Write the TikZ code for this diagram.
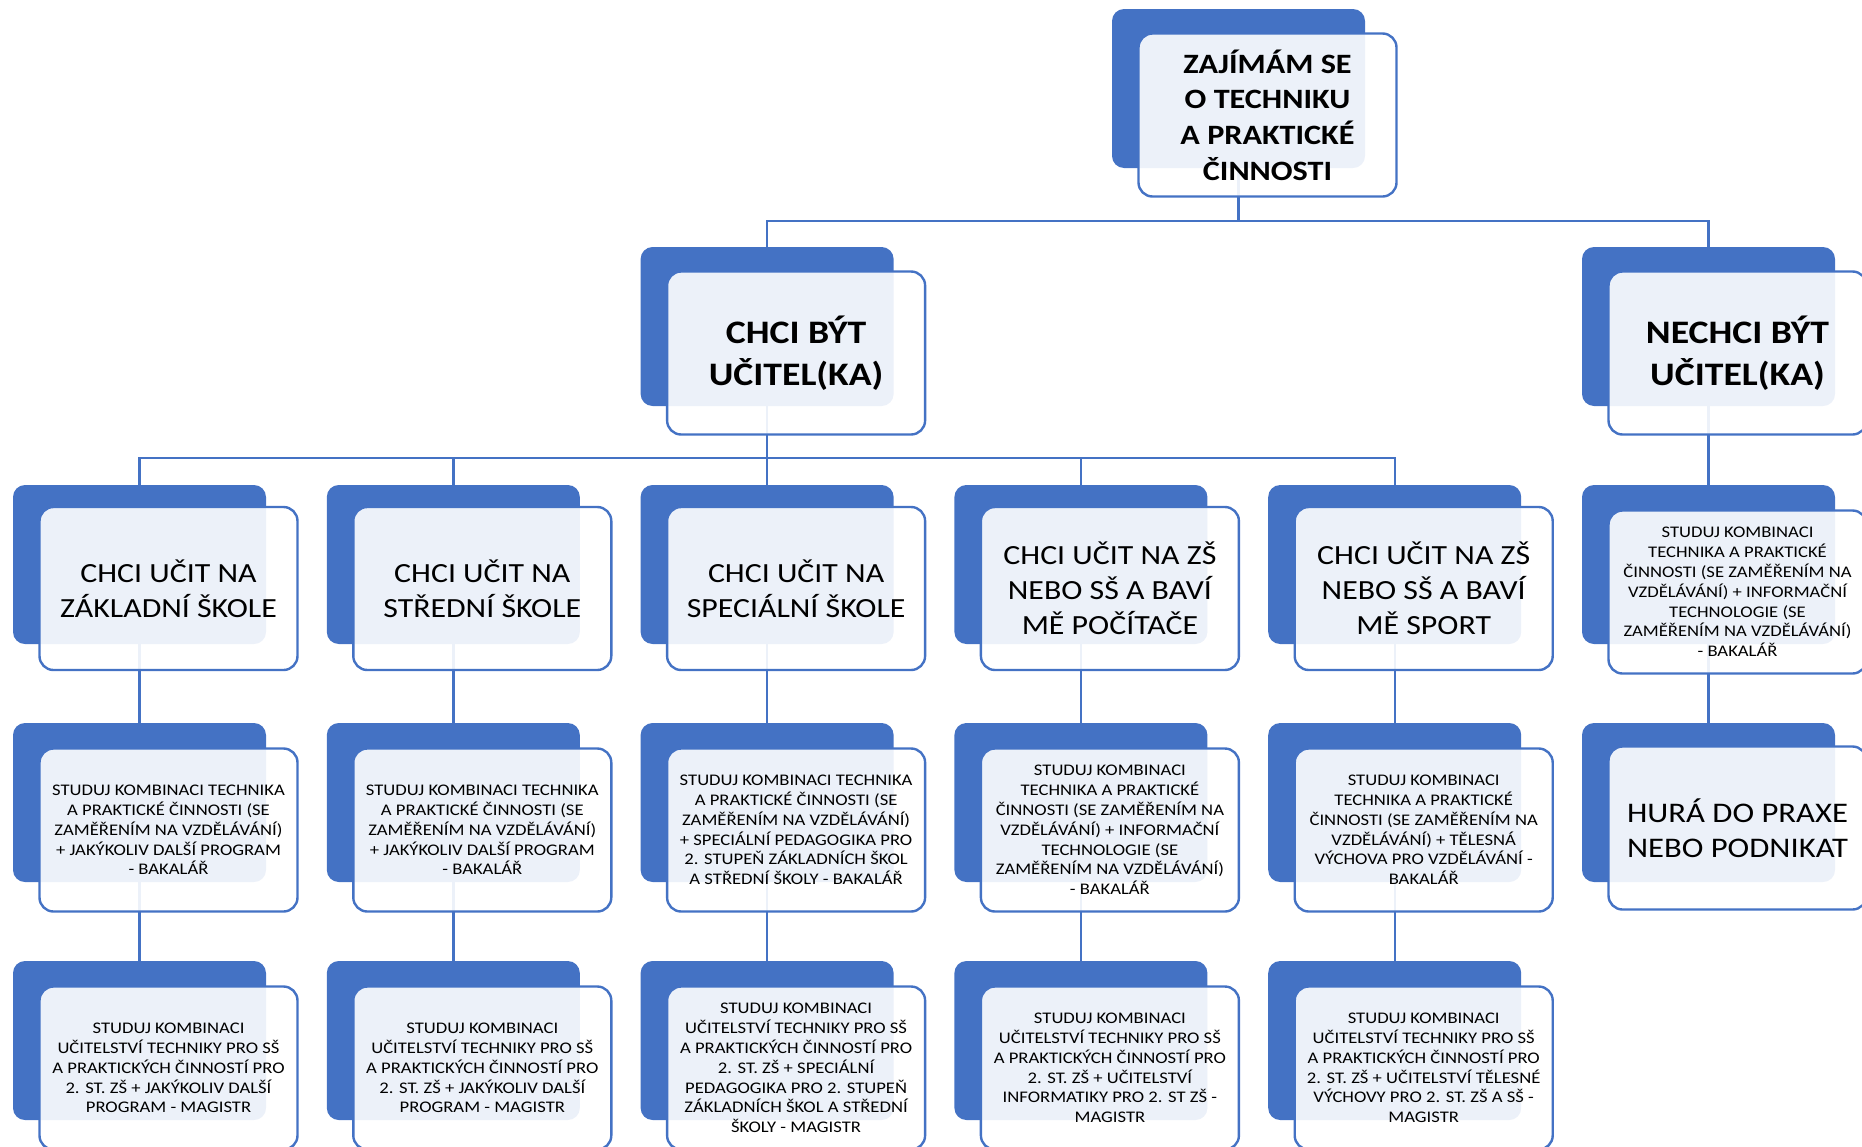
\documentclass[tikz,border=0pt]{standalone}
\usepackage{fontspec}
\setmainfont{Carlito}[FakeStretch=1.15]
\usepackage{tikz}
\usetikzlibrary{backgrounds}
\definecolor{smartblue}{HTML}{4472C4}

\begin{document}
\begin{tikzpicture}[x=0.5pt,y=-0.5pt,
  back/.style={fill=smartblue,rounded corners=6pt,minimum width=126.5pt,minimum height=79.5pt,inner sep=0pt},
  front/.style={draw=smartblue,line width=1.2pt,fill=white,fill opacity=0.9,text opacity=1,rounded corners=7pt,minimum width=129pt,minimum height=81.5pt,inner sep=2pt,align=center},
  huge/.style={front,font=\bfseries\fontsize{16.4}{20.8}\selectfont},
  head/.style={front,font=\bfseries\fontsize{14}{17.8}\selectfont},
  mid/.style={front,font=\fontsize{13.85}{17.6}\selectfont},
  small/.style={front,font=\fontsize{8.1}{9.9}\selectfont},
  link/.style={draw=smartblue,line width=1.2pt}]

\clip (0,0) rectangle (1862,1146);

% top
\node[back] (zajem) at (1238.5,88.5) {};
\node[head] (zajemt) at (1267.5,115) {ZAJÍMÁM SE\\O TECHNIKU\\A PRAKTICKÉ\\ČINNOSTI};

% second row
\node[back] (ucitel) at (767.1,326.5) {};
\node[huge] (ucitelt) at (796.1,353) {CHCI BÝT\\UČITEL(KA)};

\node[back] (neucitel) at (1708.5,326.5) {};
\node[huge] (neucitelt) at (1737.5,353) {NECHCI BÝT\\UČITEL(KA)};

% third row
\node[back] (zakladni) at (139.5,564.5) {};
\node[mid] (zakladnit) at (168.5,588.5) {CHCI UČIT NA\\ZÁKLADNÍ ŠKOLE};

\node[back] (stredni) at (453.3,564.5) {};
\node[mid] (strednit) at (482.3,588.5) {CHCI UČIT NA\\STŘEDNÍ ŠKOLE};

\node[back] (specialni) at (767.1,564.5) {};
\node[mid] (specialnit) at (796.1,588.5) {CHCI UČIT NA\\SPECIÁLNÍ ŠKOLE};

\node[back] (pocitace) at (1080.9,564.5) {};
\node[mid] (pocitacet) at (1109.9,588.5) {CHCI UČIT NA ZŠ\\NEBO SŠ A BAVÍ\\MĚ POČÍTAČE};

\node[back] (sport) at (1394.7,564.5) {};
\node[mid] (sportt) at (1423.7,588.5) {CHCI UČIT NA ZŠ\\NEBO SŠ A BAVÍ\\MĚ SPORT};

\node[back] (itbc) at (1708.5,564.5) {};
\node[small] (itbct) at (1737.5,592) {STUDUJ KOMBINACI\\TECHNIKA A PRAKTICKÉ\\ČINNOSTI (SE ZAMĚŘENÍM NA\\VZDĚLÁVÁNÍ) + INFORMAČNÍ\\TECHNOLOGIE (SE\\ZAMĚŘENÍM NA VZDĚLÁVÁNÍ)\\- BAKALÁŘ};

% fourth row
\node[back] (zsbc) at (139.5,802.5) {};
\node[small] (zsbct) at (168.5,830) {STUDUJ KOMBINACI TECHNIKA\\A PRAKTICKÉ ČINNOSTI (SE\\ZAMĚŘENÍM NA VZDĚLÁVÁNÍ)\\+ JAKÝKOLIV DALŠÍ PROGRAM\\- BAKALÁŘ};

\node[back] (ssbc) at (453.3,802.5) {};
\node[small] (ssbct) at (482.3,830) {STUDUJ KOMBINACI TECHNIKA\\A PRAKTICKÉ ČINNOSTI (SE\\ZAMĚŘENÍM NA VZDĚLÁVÁNÍ)\\+ JAKÝKOLIV DALŠÍ PROGRAM\\- BAKALÁŘ};

\node[back] (specbc) at (767.1,802.5) {};
\node[small] (specbct) at (796.1,830) {STUDUJ KOMBINACI TECHNIKA\\A PRAKTICKÉ ČINNOSTI (SE\\ZAMĚŘENÍM NA VZDĚLÁVÁNÍ)\\+ SPECIÁLNÍ PEDAGOGIKA PRO\\2. STUPEŇ ZÁKLADNÍCH ŠKOL\\A STŘEDNÍ ŠKOLY - BAKALÁŘ};

\node[back] (pcbc) at (1080.9,802.5) {};
\node[small] (pcbct) at (1109.9,830) {STUDUJ KOMBINACI\\TECHNIKA A PRAKTICKÉ\\ČINNOSTI (SE ZAMĚŘENÍM NA\\VZDĚLÁVÁNÍ) + INFORMAČNÍ\\TECHNOLOGIE (SE\\ZAMĚŘENÍM NA VZDĚLÁVÁNÍ)\\- BAKALÁŘ};

\node[back] (sportbc) at (1394.7,802.5) {};
\node[small] (sportbct) at (1423.7,830) {STUDUJ KOMBINACI\\TECHNIKA A PRAKTICKÉ\\ČINNOSTI (SE ZAMĚŘENÍM NA\\VZDĚLÁVÁNÍ) + TĚLESNÁ\\VÝCHOVA PRO VZDĚLÁVÁNÍ -\\BAKALÁŘ};

\node[back] (praxe) at (1708.5,802.5) {};
\node[mid,font=\fontsize{14.2}{17.6}\selectfont] (praxet) at (1737.5,828) {HURÁ DO PRAXE\\NEBO PODNIKAT};

% fifth row
\node[back] (zsmgr) at (139.5,1040.5) {};
\node[small] (zsmgrt) at (168.5,1068) {STUDUJ KOMBINACI\\UČITELSTVÍ TECHNIKY PRO SŠ\\A PRAKTICKÝCH ČINNOSTÍ PRO\\2. ST. ZŠ + JAKÝKOLIV DALŠÍ\\PROGRAM - MAGISTR};

\node[back] (ssmgr) at (453.3,1040.5) {};
\node[small] (ssmgrt) at (482.3,1068) {STUDUJ KOMBINACI\\UČITELSTVÍ TECHNIKY PRO SŠ\\A PRAKTICKÝCH ČINNOSTÍ PRO\\2. ST. ZŠ + JAKÝKOLIV DALŠÍ\\PROGRAM - MAGISTR};

\node[back] (specmgr) at (767.1,1040.5) {};
\node[small] (specmgrt) at (796.1,1068) {STUDUJ KOMBINACI\\UČITELSTVÍ TECHNIKY PRO SŠ\\A PRAKTICKÝCH ČINNOSTÍ PRO\\2. ST. ZŠ + SPECIÁLNÍ\\PEDAGOGIKA PRO 2. STUPEŇ\\ZÁKLADNÍCH ŠKOL A STŘEDNÍ\\ŠKOLY - MAGISTR};

\node[back] (pcmgr) at (1080.9,1040.5) {};
\node[small] (pcmgrt) at (1109.9,1068) {STUDUJ KOMBINACI\\UČITELSTVÍ TECHNIKY PRO SŠ\\A PRAKTICKÝCH ČINNOSTÍ PRO\\2. ST. ZŠ + UČITELSTVÍ\\INFORMATIKY PRO 2. ST ZŠ -\\MAGISTR};

\node[back] (sportmgr) at (1394.7,1040.5) {};
\node[small] (sportmgrt) at (1423.7,1068) {STUDUJ KOMBINACI\\UČITELSTVÍ TECHNIKY PRO SŠ\\A PRAKTICKÝCH ČINNOSTÍ PRO\\2. ST. ZŠ + UČITELSTVÍ TĚLESNÉ\\VÝCHOVY PRO 2. ST. ZŠ A SŠ -\\MAGISTR};

% lines behind the boxes
\begin{scope}[on background layer]
\coordinate (busA) at (1238.5,221);
\coordinate (busB) at (767.1,458);
\draw[link] (zajem.south) -- (busA) -| (ucitel.north);
\draw[link] (busA) -| (neucitel.north);
\draw[link] (ucitel.south) -- (busB) -| (zakladni.north);
\draw[link] (busB) -| (stredni.north);
\draw[link] (busB) -- (specialni.north);
\draw[link] (busB) -| (pocitace.north);
\draw[link] (busB) -| (sport.north);
\draw[link] (neucitel.south) -- (itbc.north);

\draw[link] (zakladni.south) -- (zsbc.north);
\draw[link] (stredni.south) -- (ssbc.north);
\draw[link] (specialni.south) -- (specbc.north);
\draw[link] (pocitace.south) -- (pcbc.north);
\draw[link] (sport.south) -- (sportbc.north);
\draw[link] (itbc.south) -- (praxe.north);

\draw[link] (zsbc.south) -- (zsmgr.north);
\draw[link] (ssbc.south) -- (ssmgr.north);
\draw[link] (specbc.south) -- (specmgr.north);
\draw[link] (pcbc.south) -- (pcmgr.north);
\draw[link] (sportbc.south) -- (sportmgr.north);
\end{scope}

\end{tikzpicture}
\end{document}
